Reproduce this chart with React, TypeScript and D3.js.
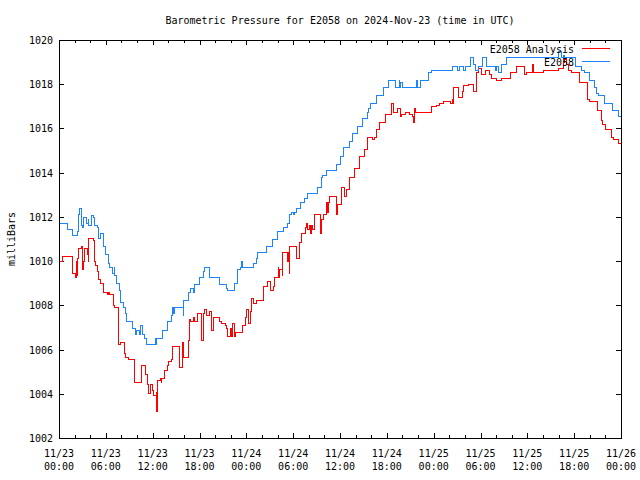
import React from "react";
import * as d3 from "d3";

const blueT = [0,1.15,1.79,2.31,2.56,2.69,2.82,3.07,3.2,3.46,3.72,3.84,4.1,4.36,4.61,4.87,5.0,5.38,5.64,5.76,6.02,6.28,6.53,6.79,7.05,7.17,7.43,7.69,7.94,8.2,8.58,8.71,9.48,9.74,9.99,10.25,10.5,10.76,10.89,11.15,12.3,12.43,12.55,13.32,13.84,14.35,14.6,14.73,14.86,15.89,16.01,16.53,16.91,17.17,17.42,18.06,18.45,18.7,19.34,20.5,21.52,21.65,22.42,22.93,23.19,23.44,23.57,24.98,25.24,25.49,26.52,27.29,27.93,28.82,29.21,29.59,29.85,29.98,30.23,30.49,31.0,31.51,31.9,33.18,33.57,33.82,34.33,35.61,36.0,36.51,37.28,37.66,38.3,38.94,39.46,39.71,39.97,40.74,41.51,42.15,43.17,43.56,43.68,43.81,44.07,45.86,45.99,46.25,47.4,47.78,50.47,51.11,51.37,51.88,52.14,52.78,53.16,53.42,53.8,54.32,54.83,55.86,56.11,56.37,56.75,57.39,63.93,64.32,64.57,64.82,66.23,67.0,67.26,68.02,68.66,68.92,69.18,69.95,70.97,71.74,72];
const blueV = [1011.68,1011.41,1011.18,1011.36,1012.09,1012.4,1011.63,1011.5,1011.95,1011.72,1011.86,1011.63,1012.05,1011.95,1011.63,1011.5,1011.04,1011.27,1011.04,1010.64,1010.28,1009.91,1009.73,1009.46,1009.69,1009.37,1009.01,1008.65,1008.15,1007.88,1007.65,1007.25,1006.97,1006.66,1006.88,1006.66,1007.11,1006.66,1006.48,1006.25,1006.52,1006.25,1006.52,1006.88,1007.25,1007.56,1007.92,1007.65,1007.92,1007.56,1008.24,1008.56,1008.78,1008.6,1008.96,1009.24,1009.51,1009.69,1009.28,1008.96,1008.78,1008.65,1009.01,1009.6,1009.69,1009.96,1009.69,1009.91,1010.14,1010.41,1010.68,1011.0,1011.32,1011.54,1011.72,1012.09,1012.22,1012.09,1012.22,1012.4,1012.67,1012.85,1013.08,1013.35,1013.76,1013.89,1014.12,1014.35,1014.71,1015.12,1015.39,1015.79,1016.11,1016.47,1016.74,1016.92,1017.15,1017.51,1017.87,1018.15,1017.83,1018.15,1017.87,1018.06,1017.83,1018.15,1017.83,1018.19,1018.51,1018.6,1018.78,1018.6,1018.78,1018.6,1018.78,1019.19,1018.87,1018.6,1018.78,1019.19,1018.78,1018.6,1018.78,1018.55,1018.87,1019.19,1019.46,1019.23,1019.32,1019.23,1018.82,1018.64,1018.55,1018.15,1017.83,1017.6,1017.47,1017.15,1016.83,1016.52,1016.52];

const redT = [0,0.05,0.51,1.79,2.05,2.18,2.31,2.43,2.56,2.82,2.95,3.07,3.2,3.33,3.59,3.72,3.84,4.48,4.61,4.74,4.87,5.12,5.38,5.64,6.15,6.28,6.53,6.92,7.05,7.56,7.94,8.33,8.58,8.84,9.61,10.63,11.02,11.4,11.53,11.66,12.04,12.17,12.43,12.55,12.68,12.94,13.07,13.19,13.58,13.84,14.09,14.35,14.48,14.6,15.5,15.76,16.01,16.65,16.72,16.91,17.17,17.42,17.68,18.32,18.45,18.58,18.96,19.22,19.6,19.73,20.5,20.88,21.27,21.52,21.65,21.91,22.04,22.29,22.42,22.55,23.57,23.83,24.0,24.34,24.47,24.72,24.98,25.24,26.26,26.65,27.16,27.42,27.67,28.06,28.18,28.31,28.57,28.69,29.21,29.34,29.47,29.59,30.49,30.75,31.13,31.64,31.77,31.9,32.03,32.28,32.41,32.54,32.67,33.56,33.69,33.95,34.33,34.46,34.58,34.71,35.49,35.61,35.74,36.25,36.64,36.77,37.28,37.92,38.56,39.2,39.58,40.22,40.48,40.74,41.0,41.51,41.77,42.66,42.79,43.43,43.81,43.94,44.45,44.96,45.35,45.48,45.6,45.73,47.78,48.42,48.81,49.32,50.22,50.35,50.48,50.6,51.24,51.63,51.88,52.52,53.04,53.55,53.8,54.19,54.7,55.09,55.47,56.11,56.75,57.78,58.67,59.7,59.95,60.72,60.85,62.13,62.64,63.93,64.57,64.82,65.08,65.33,65.72,66.62,67.77,68.02,69.05,69.44,69.69,70.07,70.72,71.1,71.74,72];
const redV = [1010.59,1009.96,1010.23,1009.46,1009.28,1009.96,1009.37,1010.14,1010.59,1010.64,1010.14,1009.6,1009.96,1010.59,1010.28,1009.96,1011.04,1010.95,1009.96,1009.82,1009.51,1009.15,1009.01,1008.6,1008.47,1008.56,1008.47,1008.01,1007.92,1006.21,1006.3,1005.84,1005.66,1005.53,1004.53,1005.26,1004.85,1004.4,1003.99,1004.4,1004.17,1003.94,1004.08,1003.18,1004.62,1004.71,1004.53,1004.71,1005.07,1005.26,1005.44,1005.53,1005.84,1006.12,1005.21,1006.3,1005.62,1006.43,1007.34,1007.25,1007.43,1007.25,1007.61,1006.43,1007.61,1007.79,1007.56,1007.7,1006.88,1007.43,1007.29,1007.2,1007.07,1006.97,1006.57,1006.97,1006.57,1007.2,1006.57,1006.79,1007.07,1007.43,1007.83,1007.2,1007.7,1008.33,1008.1,1008.24,1008.83,1009.1,1008.69,1008.83,1009.24,1009.73,1009.24,1009.6,1009.37,1010.37,1009.96,1010.37,1009.46,1010.64,1010.1,1010.86,1011.27,1011.54,1011.72,1011.41,1011.63,1011.27,1011.63,1011.41,1012.09,1011.27,1011.86,1012.09,1012.63,1012.18,1012.63,1012.94,1012.4,1012.09,1012.54,1013.35,1012.9,1013.22,1013.76,1014.21,1014.71,1015.03,1015.61,1015.48,1015.61,1015.93,1016.25,1016.29,1016.65,1017.11,1016.74,1016.92,1016.56,1016.61,1016.74,1016.61,1016.52,1016.25,1016.92,1016.74,1016.97,1017.06,1017.15,1017.2,1017.11,1017.33,1017.11,1017.87,1017.42,1017.65,1017.96,1018.01,1017.65,1018.51,1018.73,1018.42,1018.64,1018.42,1018.28,1018.19,1018.28,1018.51,1018.78,1018.42,1018.51,1018.91,1018.51,1018.6,1018.64,1018.73,1018.96,1019.1,1018.87,1018.64,1018.51,1018.06,1017.29,1017.2,1016.79,1016.38,1016.16,1015.97,1015.57,1015.52,1015.34,1015.16];

const yTicks = [1002, 1004, 1006, 1008, 1010, 1012, 1014, 1016, 1018, 1020];
const xMajorHours = [0, 6, 12, 18, 24, 30, 36, 42, 48, 54, 60, 66, 72];
const xLabelDates = ["11/23", "11/23", "11/23", "11/23", "11/24", "11/24", "11/24", "11/24", "11/25", "11/25", "11/25", "11/25", "11/26"];
const xLabelTimes = ["00:00", "06:00", "12:00", "18:00", "00:00", "06:00", "12:00", "18:00", "00:00", "06:00", "12:00", "18:00", "00:00"];

const title = "Barometric Pressure for E2058 on 2024-Nov-23 (time in UTC)";
const yLabel = "milliBars";
const seriesNames = ["E2058 Analysis", "E2058"];
const RED = "#ff0000";
const BLUE = "#1a85ff";

const W = 640, H = 480;
const L = 59, R = 621, T = 40, B = 438;
const FONT = "'DejaVu Sans Mono', 'Liberation Mono', monospace";

export default function App() {
  const x = d3.scaleLinear().domain([0, 72]).range([L, R]);
  const y = d3.scaleLinear().domain([1002, 1020]).range([B, T]);
  const line = d3
    .line<number>()
    .x((d, i, arr) => x(d))
    .curve(d3.curveStepAfter);
  const mk = (ts: number[], vs: number[]) =>
    d3
      .line<[number, number]>()
      .x((d) => x(d[0]))
      .y((d) => y(d[1]))
      .curve(d3.curveStepAfter)(ts.map((t, i) => [t, vs[i]] as [number, number])) || "";
  const redPath = mk(redT, redV);
  const bluePath = mk(blueT, blueV);
  const minorHours = d3.range(0, 73, 2).filter((h) => h % 6 !== 0);
  void line;

  return (
    <svg width={W} height={H} style={{ display: "block", position: "absolute", left: 0, top: 0, background: "#fff" }}>
      <rect x={0} y={0} width={W} height={H} fill="#fff" />
      <text x={340} y={24} textAnchor="middle" fontFamily={FONT} fontSize={10} fill="#000">{title}</text>
      <text transform={`translate(15,${(T + B) / 2}) rotate(-90)`} textAnchor="middle" fontFamily={FONT} fontSize={10} fill="#000">{yLabel}</text>
      <g shapeRendering="crispEdges" stroke="#000" strokeWidth={1}>
        {yTicks.map((v) => (
          <g key={"yt" + v}>
            <line x1={L} x2={L + 5} y1={Math.round(y(v)) + 0.5} y2={Math.round(y(v)) + 0.5} />
            <line x1={R} x2={R - 5} y1={Math.round(y(v)) + 0.5} y2={Math.round(y(v)) + 0.5} />
          </g>
        ))}
        {xMajorHours.map((h) => (
          <g key={"xt" + h}>
            <line x1={Math.round(x(h)) + 0.5} x2={Math.round(x(h)) + 0.5} y1={B} y2={B - 5} />
            <line x1={Math.round(x(h)) + 0.5} x2={Math.round(x(h)) + 0.5} y1={T} y2={T + 5} />
          </g>
        ))}
        {minorHours.map((h) => (
          <g key={"xm" + h}>
            <line x1={Math.round(x(h)) + 0.5} x2={Math.round(x(h)) + 0.5} y1={B} y2={B - 3} />
            <line x1={Math.round(x(h)) + 0.5} x2={Math.round(x(h)) + 0.5} y1={T} y2={T + 3} />
          </g>
        ))}
      </g>
      {yTicks.map((v) => (
        <text key={"yl" + v} x={L - 6} y={y(v) + 4} textAnchor="end" fontFamily={FONT} fontSize={10} fill="#000">{v}</text>
      ))}
      {xMajorHours.map((h, i) => (
        <g key={"xl" + h}>
          <text x={x(h)} y={457} textAnchor="middle" fontFamily={FONT} fontSize={10} fill="#000">{xLabelDates[i]}</text>
          <text x={x(h)} y={470} textAnchor="middle" fontFamily={FONT} fontSize={10} fill="#000">{xLabelTimes[i]}</text>
        </g>
      ))}
      <g shapeRendering="crispEdges">
        <path d={redPath} fill="none" stroke={RED} strokeWidth={1} />
        <path d={bluePath} fill="none" stroke={BLUE} strokeWidth={1} />
      </g>
      <text x={574} y={53} textAnchor="end" fontFamily={FONT} fontSize={10} fill="#000">{seriesNames[0]}</text>
      <line x1={582} x2={610} y1={48.5} y2={48.5} stroke={RED} strokeWidth={1} shapeRendering="crispEdges" />
      <text x={574} y={66} textAnchor="end" fontFamily={FONT} fontSize={10} fill="#000">{seriesNames[1]}</text>
      <line x1={582} x2={610} y1={61.5} y2={61.5} stroke={BLUE} strokeWidth={1} shapeRendering="crispEdges" />
      <rect x={L + 0.5} y={T + 0.5} width={R - L} height={B - T} fill="none" stroke="#000" strokeWidth={1} shapeRendering="crispEdges" />
    </svg>
  );
}
